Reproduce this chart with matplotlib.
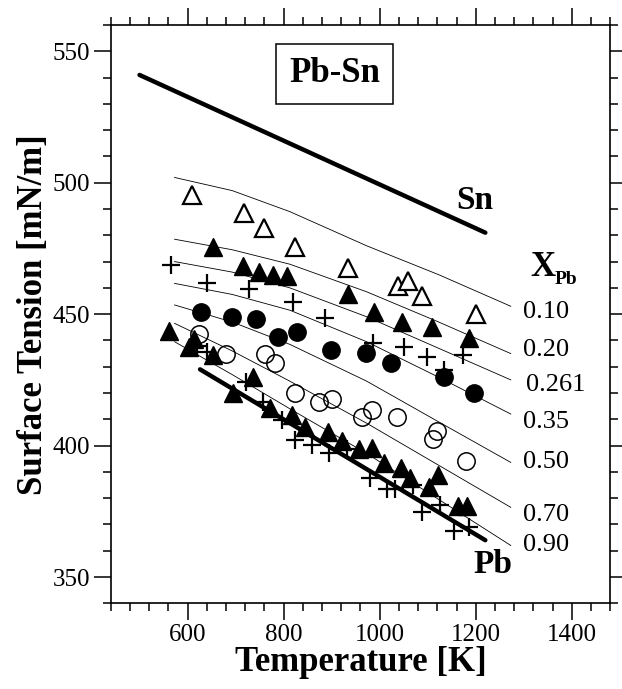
import numpy as np
import matplotlib
matplotlib.use('Agg')
import matplotlib.pyplot as plt
from matplotlib.ticker import MultipleLocator

# ---- data ----
# pure metals (thick lines)
sn_T = [500, 1220]
sn_sigma = [541, 481]
pb_T = [626, 1220]
pb_sigma = [429, 364]

# model curves for each X_Pb (thin lines)
curve_T = [573, 693, 813, 973, 1123, 1273]
curve_labels = ['0.10', '0.20', '0.261', '0.35', '0.50', '0.70', '0.90']
curve_010 = [502, 497, 489, 476, 465, 453]
curve_020 = [478.5, 474.5, 469, 458.5, 447, 435]
curve_0261 = [470, 466, 460, 449, 437, 425]
curve_035 = [461.7, 457.5, 451.5, 439.5, 426, 412]
curve_050 = [453.5, 447, 438.5, 424.5, 409, 393.6]
curve_070 = [446.5, 436, 424.5, 408.5, 392.5, 376.5]
curve_090 = [439.5, 427, 414, 397, 379.5, 362]

# measured points
open_tri_T = [609, 718, 760, 824, 935, 1038, 1058, 1089, 1200]
open_tri_s = [495.3, 488.4, 482.7, 475.7, 467.4, 460.7, 462.6, 456.9, 449.9]

fill_tri_T = [652, 715, 748, 777, 808, 935, 988, 1046, 1110, 1185]
fill_tri_s = [475.7, 468.4, 466.1, 464.9, 464.5, 457.5, 450.9, 447.1, 445.2, 440.8]

plus_hi_T = [566, 641, 727, 820, 886, 987, 1050, 1098, 1133, 1174]
plus_hi_s = [468.7, 461.7, 459.5, 454.7, 448.4, 438.9, 437.6, 433.6, 428.8, 434.5]

fill_circ_T = [628, 693, 743, 788, 827, 899, 971, 1024, 1133, 1197]
fill_circ_s = [450.7, 449.0, 448.0, 441.4, 443.3, 436.4, 435.1, 431.3, 426.2, 419.9]

open_circ_T = [624, 680, 761, 782, 823, 874, 900, 963, 984, 1036, 1112, 1120, 1179]
open_circ_s = [442.3, 434.8, 434.8, 431.5, 419.9, 416.7, 417.7, 411.0, 413.5, 411.0, 402.4, 405.7, 394.1]

fill_tri_lo_T = [561, 604, 614, 654, 695, 737, 772, 817, 845, 892, 922, 956, 985, 1008,
                 1045, 1063, 1103, 1122, 1164, 1182]
fill_tri_lo_s = [443.7, 437.6, 440.4, 434.4, 419.9, 426.2, 414.2, 411.6, 407.2, 405.3, 401.7,
                 398.6, 399.2, 393.5, 391.6, 387.5, 384.4, 388.8, 377.0, 377.0]

plus_lo_T = [619, 640, 721, 758, 796, 823, 859, 895, 932, 980, 1015, 1032, 1070, 1088,
             1126, 1154, 1185]
plus_lo_s = [437.9, 435.7, 424.3, 416.7, 409.7, 402.1, 400.2, 397.3, 398.6, 387.5, 383.4,
             383.4, 385.0, 374.8, 377.4, 367.6, 369.1]

plt.rcParams['font.family'] = ['Liberation Serif', 'DejaVu Serif']

fig = plt.figure(figsize=(6.22, 6.89), dpi=100)
ax = fig.add_axes([0.178, 0.1244, 0.803, 0.8393])

# thin model curves
curves = [curve_010, curve_020, curve_0261, curve_035, curve_050, curve_070, curve_090]
for c in curves:
    ax.plot(curve_T, c, color='black', lw=0.6)

# thick lines for the pure metals
ax.plot(sn_T, sn_sigma, color='black', lw=3.2, solid_capstyle='round')
ax.plot(pb_T, pb_sigma, color='black', lw=3.2, solid_capstyle='round')

ms = 12.5
ax.plot(open_tri_T, open_tri_s, '^', ms=ms, mfc='white', mec='black', mew=1.6, ls='none')
ax.plot(fill_tri_T, fill_tri_s, '^', ms=ms, color='black', ls='none')
ax.plot(plus_hi_T, plus_hi_s, '+', ms=ms + 1, mew=1.6, color='black', ls='none')
ax.plot(fill_circ_T, fill_circ_s, 'o', ms=ms, color='black', ls='none')
ax.plot(open_circ_T, open_circ_s, 'o', ms=ms, mfc='none', mec='black', mew=1.1, ls='none')
ax.plot(fill_tri_lo_T, fill_tri_lo_s, '^', ms=ms, color='black', ls='none')
ax.plot(plus_lo_T, plus_lo_s, '+', ms=ms + 1, mew=1.6, color='black', ls='none')

ax.set_xlim(440, 1480)
ax.set_ylim(340, 560)
ax.xaxis.set_major_locator(MultipleLocator(200))
ax.xaxis.set_minor_locator(MultipleLocator(40))
ax.yaxis.set_major_locator(MultipleLocator(50))
ax.yaxis.set_minor_locator(MultipleLocator(10))
ax.tick_params(which='both', direction='out', top=True, right=True, width=1.1,
               labelsize=18, pad=3)
ax.tick_params(which='major', length=12)
ax.tick_params(which='minor', length=6)
ax.set_xticks([600, 800, 1000, 1200, 1400])
ax.set_yticks([350, 400, 450, 500, 550])
for sp in ax.spines.values():
    sp.set_linewidth(1.2)

ax.set_xlabel('Temperature [K]', fontsize=25, fontweight='bold', labelpad=0)
ax.set_ylabel('Surface Tension [mN/m]', fontsize=25, fontweight='bold', labelpad=2)

# annotations
ax.text(906, 541.4, 'Pb-Sn', fontsize=25, fontweight='bold', ha='center', va='center',
        bbox=dict(boxstyle='square,pad=0.38', fc='white', ec='black', lw=1.1))
ax.text(1197, 493.4, 'Sn', fontsize=24, fontweight='bold', ha='center', va='center')
ax.text(1235, 354.6, 'Pb', fontsize=24, fontweight='bold', ha='center', va='center')
ax.text(1313, 467.9, 'X', fontsize=25, fontweight='bold', ha='left', va='center')
ax.text(1365, 463.0, 'Pb', fontsize=14, fontweight='bold', ha='left', va='center')

label_y = [450.8, 436.4, 423.0, 409.0, 393.7, 373.6, 362.2]
label_x = [1299, 1299, 1305, 1299, 1299, 1299, 1299]
for lx, ly, lab in zip(label_x, label_y, curve_labels):
    ax.text(lx, ly, lab, fontsize=19, ha='left', va='center')

fig.savefig('out.png', dpi=100)
